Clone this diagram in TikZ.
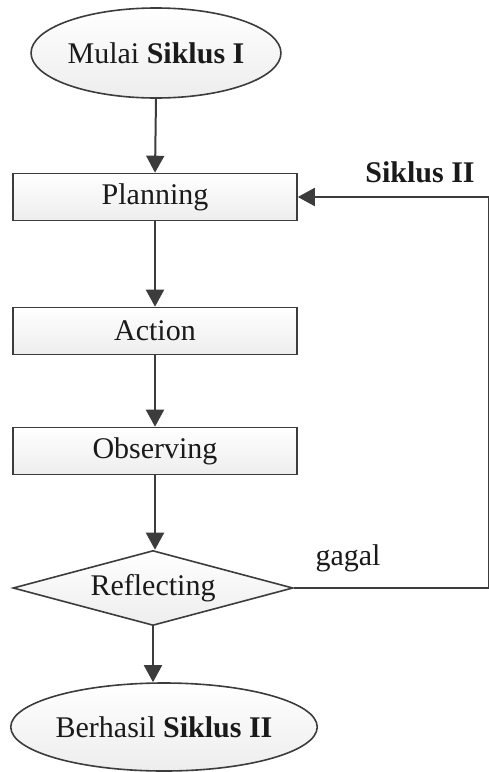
\documentclass[tikz,border=0pt]{standalone}
\usepackage{fontspec}
\setmainfont{Liberation Serif}
\usetikzlibrary{shapes.geometric,arrows.meta}
\definecolor{lc}{HTML}{3C3C3C}
\definecolor{tc}{HTML}{1A1A1A}
\tikzset{
  base/.style={draw=lc, line width=1.6pt, text=tc, font=\fontsize{30}{33}\selectfont, inner sep=0pt,
    top color=white, bottom color=gray!14},
  boxnode/.style={base, rectangle, minimum width=284pt, minimum height=47pt},
  ovalnode/.style={base, ellipse},
  decnode/.style={base, diamond, shape aspect=3.7, minimum width=280pt, minimum height=75pt},
  flow/.style={draw=lc, line width=2pt, -{Triangle[length=17pt,width=18pt]}},
  plainline/.style={draw=lc, line width=2pt},
  lbl/.style={text=tc, font=\fontsize{30}{33}\selectfont, inner sep=0pt}
}
\begin{document}
\begin{tikzpicture}[x=1pt,y=-1pt]
\useasboundingbox (0,0) rectangle (488,772);
\node[ovalnode, minimum width=248pt, minimum height=90pt] (start) at (156,53) {Mulai \textbf{Siklus I}};
\node[boxnode] (plan) at (155,197) {Planning};
\node[boxnode] (act) at (155,331) {Action};
\node[boxnode] (obs) at (155,451) {Observing};
\node[decnode] (refl) at (153,588) {Reflecting};
\node[ovalnode, minimum width=302pt, minimum height=88pt] (end) at (164,727) {Berhasil \textbf{Siklus II}};
\coordinate (r1) at (488.6,588);
\coordinate (r2) at (488.6,197);
\node[lbl] (g) at (348,558) {gagal};
\node[lbl] (s2) at (420,172) {\textbf{Siklus II}};
\draw[flow] (start.south) -- (plan.north);
\draw[flow] (plan) -- (act);
\draw[flow] (act) -- (obs);
\draw[flow] (obs.south) -- (obs.south |- refl.north);
\draw[flow] (refl.south) -- (refl.south |- end.north);
\draw[plainline] (refl.east) -- (r1) -- (r2);
\draw[flow] (r2) -- (plan.east);
\end{tikzpicture}
\end{document}
